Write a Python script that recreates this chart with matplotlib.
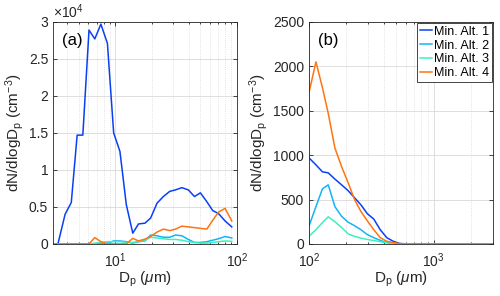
import matplotlib
matplotlib.use('Agg')
import matplotlib.pyplot as plt
from matplotlib.ticker import FuncFormatter, LogLocator
import numpy as np

plt.rcParams['font.family'] = ['Liberation Sans', 'DejaVu Sans']
plt.rcParams['mathtext.fontset'] = 'custom'
plt.rcParams['mathtext.rm'] = 'Liberation Sans'
plt.rcParams['mathtext.it'] = 'Liberation Sans:italic'

# Panel (a) bins (Dp, um) and concentrations (cm^-3)
dp_a = [3.07, 3.37, 3.86, 4.34, 4.85, 5.40, 6.07, 6.77, 7.6, 8.6, 9.68, 10.9, 12.3,
        13.9, 15.5, 17.5, 19.5, 22.0, 24.8, 28.0, 31.2, 35.2, 39.8, 44.7, 50.0,
        56.5, 63.2, 70.5, 79.8, 90.6]
alt1_a = [0, 0, 4000, 5600, 14700, 14700, 28900, 27700, 29700, 27100, 15000, 12500,
          5300, 1450, 2700, 2800, 3500, 5500, 6400, 7100, 7300, 7600, 7300, 6400,
          6900, 5700, 4500, 4100, 3100, 2300]
alt2_a = [0, 0, 0, 0, 0, 0, 0, 0, 100, 100, 400, 400, 300, 100, 300, 400, 1200,
          1100, 900, 900, 1200, 1100, 600, 200, 200, 300, 500, 700, 1000, 800]
alt3_a = [0, 0, 0, 0, 0, 0, 0, 100, 200, 300, 300, 300, 200, 200, 300, 500, 900,
          800, 700, 600, 600, 500, 300, 200, 100, 100, 200, 300, 400, 350]
alt4_a = [0, 0, 0, 0, 0, 0, 0, 850, 300, 0, 0, 0, 0, 750, 400, 650, 1000, 1600,
          2000, 1800, 2000, 2400, 2300, 2200, 2100, 2000, 3200, 4300, 4800, 3100]

# Panel (b) bins (Dp, um) and concentrations (cm^-3)
dp_b = [100.6, 113.7, 128.2, 142.7, 161.4, 182.7, 206, 232, 261, 294, 331, 373,
        421, 474, 535, 603, 679, 765, 862, 970, 1093, 1230, 1386, 1560, 1757,
        1978, 2227, 2508, 2824, 3000]
alt1_b = [965, 890, 812, 800, 730, 665, 600, 520, 440, 340, 280, 160, 70, 30, 5,
          0, 0, 0, 0, 0, 0, 0, 0, 0, 0, 0, 0, 0, 0, 0]
alt2_b = [210, 420, 620, 665, 420, 310, 245, 205, 160, 105, 70, 40, 15, 5, 0,
          0, 0, 0, 0, 0, 0, 0, 0, 0, 0, 0, 0, 0, 0, 0]
alt3_b = [90, 160, 240, 305, 250, 185, 113, 85, 65, 50, 38, 25, 12, 5, 0,
          0, 0, 0, 0, 0, 0, 0, 0, 0, 0, 0, 0, 0, 0, 0]
alt4_b = [1720, 2050, 1760, 1470, 1080, 870, 690, 500, 365, 260, 160, 70, 30, 15, 3,
          0, 0, 0, 0, 0, 0, 0, 0, 0, 0, 0, 0, 0, 0, 0]

labels = ['Min. Alt. 1', 'Min. Alt. 2', 'Min. Alt. 3', 'Min. Alt. 4']
colors = ['#0a40f5', '#14b4f5', '#3cf0c0', '#ff7410']
ink = '#262626'

fig = plt.figure(figsize=(5.0, 2.96), dpi=100)
ax1 = fig.add_axes([0.106, 0.176, 0.368, 0.75])
ax2 = fig.add_axes([0.618, 0.176, 0.368, 0.75])

for ax, x, ys in [(ax1, dp_a, [alt1_a, alt2_a, alt3_a, alt4_a]),
                  (ax2, dp_b, [alt1_b, alt2_b, alt3_b, alt4_b])]:
    for y, c, lab in zip(ys, colors, labels):
        ax.plot(x, y, color=c, lw=1.1, label=lab)
    ax.set_xscale('log')
    ax.xaxis.set_minor_locator(LogLocator(base=10, subs=np.arange(2, 10)))
    ax.grid(True, which='major', color='#d9d9d9', lw=0.6)
    ax.grid(True, which='minor', axis='x', color='#d9d9d9', lw=0.6, ls=':')
    ax.set_axisbelow(True)
    ax.tick_params(which='both', direction='in', top=True, right=True,
                   labelsize=10, colors=ink, width=0.6)
    ax.tick_params(axis='x', which='both', pad=5.5)
    ax.tick_params(which='major', length=3)
    ax.tick_params(which='minor', length=1.5)
    for s in ax.spines.values():
        s.set_color(ink)
        s.set_linewidth(0.6)
    ax.set_xlabel(r'D$_\mathrm{p}$ ($\mu$m)', fontsize=11, color=ink, labelpad=0)
    ax.set_ylabel(r'dN/dlogD$_\mathrm{p}$ (cm$^{-3}$)', fontsize=11, color=ink, labelpad=2)

ax1.set_xlim(3.07, 100)
ax1.set_ylim(0, 30000)
ax1.set_yticks([0, 5000, 10000, 15000, 20000, 25000, 30000])
ax1.yaxis.set_major_formatter(FuncFormatter(lambda v, p: '%g' % (v / 1e4)))
ax1.text(0.0, 1.005, r'$\times10^{4}$', transform=ax1.transAxes, fontsize=10,
         color=ink, va='bottom', ha='left')
ax1.text(0.05, 0.95, '(a)', transform=ax1.transAxes, fontsize=12, va='top', ha='left')

ax2.set_xlim(100, 3000)
ax2.set_ylim(0, 2500)
ax2.set_yticks([0, 500, 1000, 1500, 2000, 2500])
ax2.text(0.05, 0.95, '(b)', transform=ax2.transAxes, fontsize=12, va='top', ha='left')
leg = ax2.legend(loc='upper right', fontsize=9, handlelength=1.0, handletextpad=0.15,
                 borderpad=0.2, labelspacing=0.15, borderaxespad=0.1, fancybox=False,
                 framealpha=1)
leg.get_frame().set_edgecolor(ink)
leg.get_frame().set_linewidth(0.6)

fig.savefig('out.png', dpi=100)
